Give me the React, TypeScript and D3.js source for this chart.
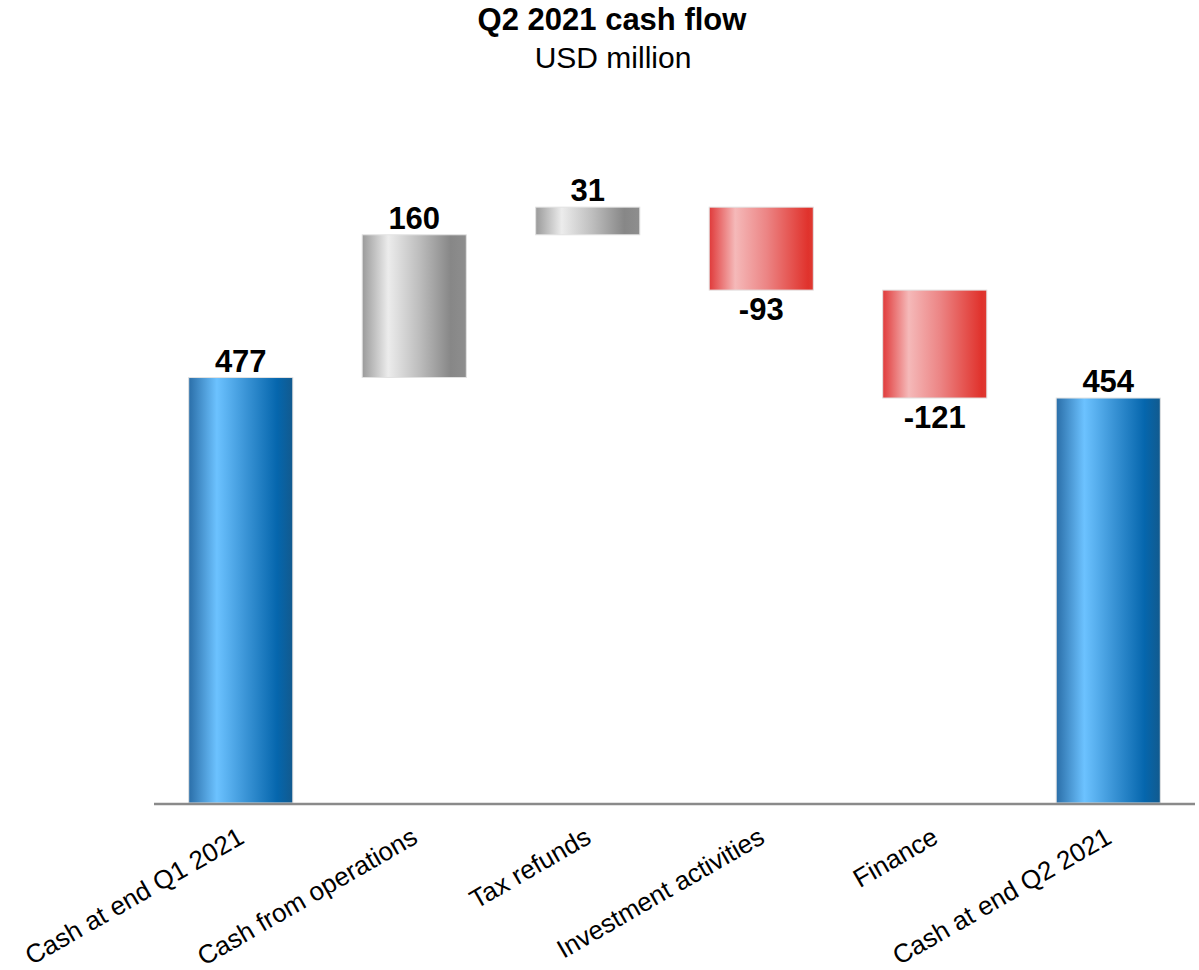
import React from "react";
import * as d3 from "d3";

const categories = [
  "Cash at end Q1 2021",
  "Cash from operations",
  "Tax refunds",
  "Investment activities",
  "Finance",
  "Cash at end Q2 2021",
];
const values = [477, 160, 31, -93, -121, 454];
const kinds = ["total", "delta", "delta", "delta", "delta", "total"];

const W = 1199;
const H = 970;
const FONT = "'Liberation Sans', Arial, Helvetica, sans-serif";

export default function App() {
  const x = d3
    .scaleBand<string>()
    .domain(categories)
    .range([154, 1195])
    .paddingInner(0.4)
    .paddingOuter(0.2);
  const y = d3.scaleLinear().domain([0, 700]).range([803, 178.6]);

  let running = 0;
  const bars = categories.map((c, i) => {
    const v = values[i];
    let y0: number, y1: number;
    if (kinds[i] === "total") {
      y0 = 0;
      y1 = v;
      running = v;
    } else {
      y0 = running;
      y1 = running + v;
      running = y1;
    }
    const fill =
      kinds[i] === "total" ? "url(#gBlue)" : v >= 0 ? "url(#gGray)" : "url(#gRed)";
    return { c, v, y0, y1, fill };
  });

  return (
    <div style={{ position: "absolute", left: 0, top: 0 }}>
      <svg width={W} height={H} style={{ display: "block", background: "#fff" }}>
        <defs>
          <linearGradient id="gBlue" x1="0" x2="1" y1="0" y2="0">
            <stop offset="0" stopColor="#2a6ea8" />
            <stop offset="0.27" stopColor="#6cc2ff" />
            <stop offset="0.55" stopColor="#3a94d6" />
            <stop offset="0.85" stopColor="#0566ad" />
            <stop offset="1" stopColor="#125a8e" />
          </linearGradient>
          <linearGradient id="gGray" x1="0" x2="1" y1="0" y2="0">
            <stop offset="0" stopColor="#9a9a9a" />
            <stop offset="0.25" stopColor="#ececec" />
            <stop offset="0.55" stopColor="#bdbdbd" />
            <stop offset="0.85" stopColor="#878787" />
            <stop offset="1" stopColor="#8e8e8e" />
          </linearGradient>
          <linearGradient id="gRed" x1="0" x2="1" y1="0" y2="0">
            <stop offset="0" stopColor="#e03a3a" />
            <stop offset="0.25" stopColor="#f5b9b9" />
            <stop offset="0.55" stopColor="#ec8585" />
            <stop offset="0.95" stopColor="#e0322c" />
            <stop offset="1" stopColor="#de3a32" />
          </linearGradient>
        </defs>

        <text
          x={612}
          y={30}
          textAnchor="middle"
          fontFamily={FONT}
          fontWeight="bold"
          fontSize={31}
          fill="#000"
        >
          Q2 2021 cash flow
        </text>
        <text
          x={613}
          y={68}
          textAnchor="middle"
          fontFamily={FONT}
          fontSize={30}
          fill="#000"
        >
          USD million
        </text>

        {bars.map((b) => {
          const top = y(Math.max(b.y0, b.y1));
          const bot = y(Math.min(b.y0, b.y1));
          const bx = x(b.c)!;
          const bw = x.bandwidth();
          const cx = bx + bw / 2;
          const labelY = b.v >= 0 ? top - 6 : bot + 30;
          return (
            <g key={b.c}>
              <rect
                x={bx}
                y={top}
                width={bw}
                height={bot - top}
                fill={b.fill}
                stroke="#e2e2e2"
                strokeWidth={1}
              />
              <text
                x={cx}
                y={labelY}
                textAnchor="middle"
                fontFamily={FONT}
                fontWeight="bold"
                fontSize={31}
                fill="#000"
              >
                {b.v}
              </text>
            </g>
          );
        })}

        <line x1={154} x2={1195} y1={804} y2={804} stroke="#8a8a8a" strokeWidth={2.5} />

        {categories.map((c) => {
          const cx = x(c)! + x.bandwidth() / 2;
          return (
            <text
              key={c}
              transform={`translate(${cx + 5},${842}) rotate(-30)`}
              textAnchor="end"
              fontFamily={FONT}
              fontSize={26}
              fill="#000"
            >
              {c}
            </text>
          );
        })}
      </svg>
    </div>
  );
}
